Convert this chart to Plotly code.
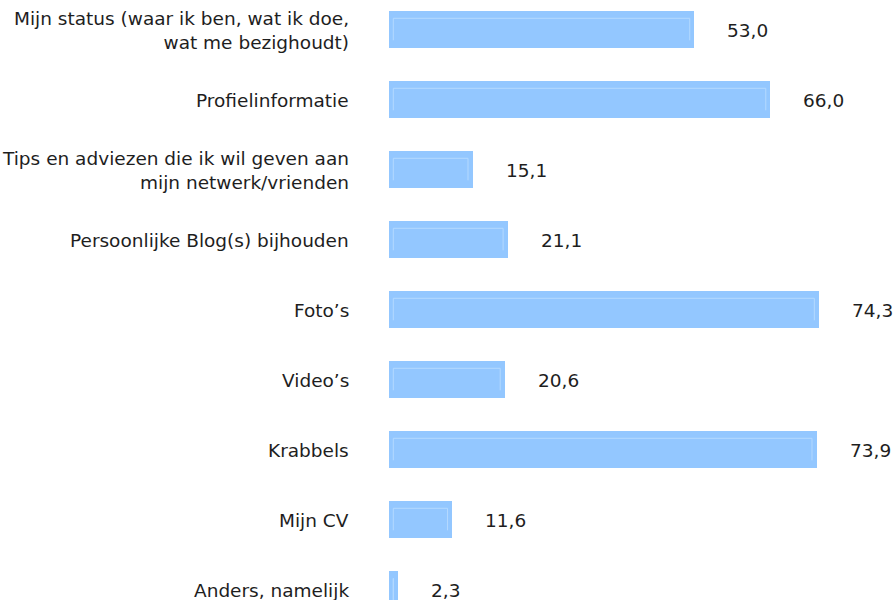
import plotly.graph_objects as go

categories = [
    "Mijn status (waar ik ben, wat ik doe,<br>wat me bezighoudt)",
    "Profielinformatie",
    "Tips en adviezen die ik wil geven aan<br>mijn netwerk/vrienden",
    "Persoonlijke Blog(s) bijhouden",
    "Foto’s",
    "Video’s",
    "Krabbels",
    "Mijn CV",
    "Anders, namelijk",
]
values = [53.0, 66.0, 15.1, 21.1, 74.3, 20.6, 73.9, 11.6, 2.3]
value_labels = ["53,0", "66,0", "15,1", "21,1", "74,3", "20,6", "73,9", "11,6", "2,3"]

W, H = 894, 600
LEFT = 389
PX_PER_UNIT = 5.85
X0 = 0.79
FONT = "DejaVu Sans, Verdana, sans-serif"
FS = 18.5
TXT = "#1e1e1e"
BAR = "#93C7FF"
HILITE = "#B4D9FF"
ROW = 70.0
FIRST = 29.3

pos = list(range(len(categories)))

fig = go.Figure()
fig.add_trace(go.Bar(
    x=values, y=pos, orientation="h",
    marker=dict(color=BAR, line=dict(width=0)),
    width=36.7 / ROW, hoverinfo="skip",
))

# inner bevel highlight (left, top, right edges) derived from the bar values
hx, hy = [], []
dy = 11.0 / ROW
for p, v in zip(pos, values):
    xl = X0 + 4.3 / PX_PER_UNIT
    xr = max(v - 4.7 / PX_PER_UNIT, xl)
    hx += [xl, xl, xr, xr, None]
    hy += [p + dy, p - dy, p - dy, p + dy, None]
fig.add_trace(go.Scatter(
    x=hx, y=hy, mode="lines", line=dict(color=HILITE, width=1),
    hoverinfo="skip", cliponaxis=True,
))

annotations = []
for p, v, t in zip(pos, values, value_labels):
    annotations.append(dict(
        x=v, y=p, xref="x", yref="y", text=t, showarrow=False,
        xanchor="left", yanchor="middle", xshift=31, yshift=-1,
        font=dict(family=FONT, size=FS, color=TXT),
    ))
for p, c in zip(pos, categories):
    annotations.append(dict(
        x=0, y=p, xref="paper", yref="y", text=c, showarrow=False,
        xanchor="right", yanchor="middle", align="right", xshift=-38, yshift=-1,
        font=dict(family=FONT, size=FS, color=TXT),
    ))

fig.update_layout(
    width=W, height=H,
    margin=dict(l=LEFT, r=0, t=0, b=0),
    paper_bgcolor="white", plot_bgcolor="white",
    showlegend=False,
    annotations=annotations,
    xaxis=dict(range=[X0, X0 + (W - LEFT) / PX_PER_UNIT], visible=False, fixedrange=True),
    yaxis=dict(range=[(H - FIRST) / ROW, -FIRST / ROW], visible=False, fixedrange=True),
    bargap=0,
)

fig.write_html(
    "out.html",
    config={"displayModeBar": False},
    post_script="document.body.style.margin='0';document.body.style.overflow='hidden';",
)
